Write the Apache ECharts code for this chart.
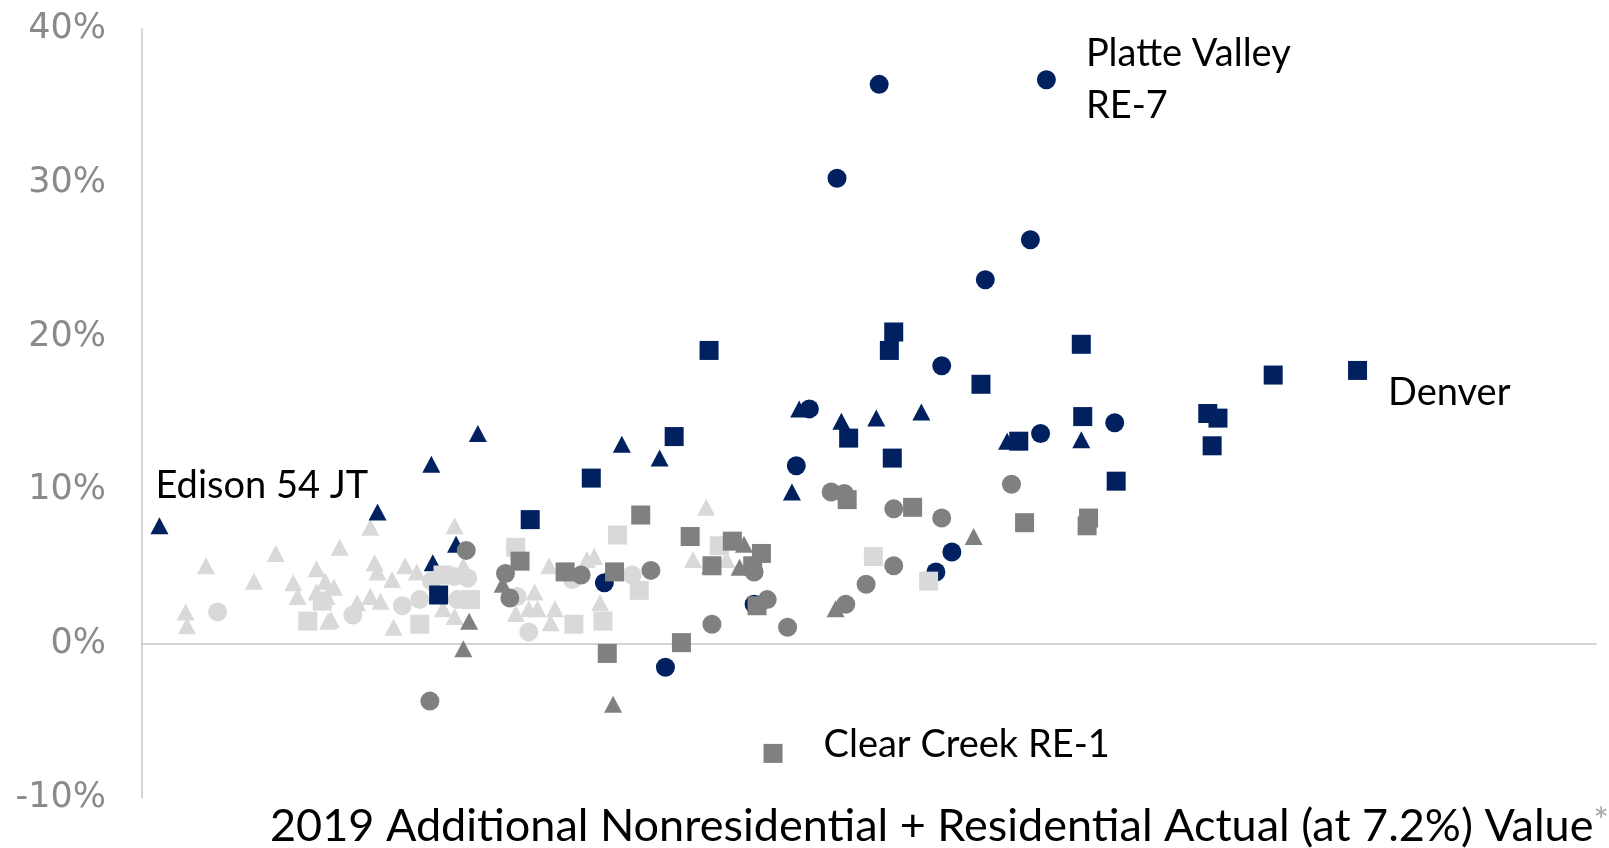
<!DOCTYPE html>
<html>
<head>
<meta charset="utf-8">
<script src="https://cdn.jsdelivr.net/npm/echarts@6/dist/echarts.min.js"></script>
<style>
  html, body { margin: 0; padding: 0; background: #fff; }
  #chart { width: 1609px; height: 848px; }
</style>
</head>
<body>
<div id="chart"></div>
<script>
// Horizontal position is a relative index (0–100) of the 2019 additional value; vertical is the % change.
const navyCircles = [[50.7,36.4],[62.2,36.7],[47.8,30.3],[61.1,26.3],[58.0,23.7],[55.0,18.1],[45.9,15.3],[61.8,13.7],[66.9,14.4],[45.0,11.6],[55.7,6.0],[54.6,4.7],[42.1,2.6],[31.8,4.0],[36.0,-1.5]];
const navySquares = [[39.0,19.1],[51.7,20.3],[51.4,19.1],[64.6,19.5],[57.7,16.9],[77.8,17.5],[83.6,17.8],[73.3,15.0],[74.0,14.7],[64.7,14.8],[73.6,12.9],[36.6,13.5],[48.6,13.4],[60.3,13.2],[51.6,12.1],[30.9,10.8],[67.0,10.6],[26.7,8.1],[20.4,3.2]];
const navyTriangles = [[1.2,7.7],[16.2,8.6],[19.9,11.7],[23.1,13.7],[33.0,13.0],[35.6,12.1],[45.2,15.3],[48.1,14.5],[50.5,14.7],[53.6,15.1],[44.7,9.9],[59.5,13.2],[64.6,13.3],[21.6,6.5],[20.0,5.3]];

const grayCircles = [[22.3,6.1],[19.8,-3.7],[25.0,4.6],[25.3,3.0],[30.2,4.5],[35.0,4.8],[39.2,1.3],[42.1,4.7],[43.0,2.9],[44.4,1.1],[47.4,9.9],[48.3,9.8],[48.4,2.6],[49.8,3.9],[51.7,8.8],[55.0,8.2],[51.7,5.1],[59.8,10.4]];
const graySquares = [[34.3,8.4],[37.7,7.0],[40.6,6.7],[42.6,5.9],[39.2,5.1],[42.0,5.1],[42.3,2.5],[29.1,4.7],[32.5,4.7],[26.0,5.4],[32.0,-0.6],[37.1,0.1],[43.4,-7.1],[48.5,9.4],[53.0,8.9],[60.7,7.9],[65.1,8.2],[65.0,7.7]];
const grayTriangles = [[22.1,-0.3],[22.5,1.5],[24.8,3.9],[32.4,-3.9],[39.1,5.1],[41.4,6.5],[41.1,5.0],[47.7,2.3],[57.2,7.0]];

const lightCircles = [[5.2,2.1],[14.5,1.9],[17.9,2.5],[19.1,2.9],[19.9,4.1],[21.5,4.4],[22.4,4.3],[21.7,2.9],[26.6,0.8],[25.8,3.1],[29.6,4.2],[33.7,4.5]];
const lightSquares = [[11.4,1.5],[12.4,2.8],[19.1,1.3],[20.7,4.5],[22.6,2.9],[25.7,6.3],[29.7,1.3],[31.7,1.5],[32.7,7.1],[34.2,3.5],[39.7,6.4],[50.3,5.7],[54.1,4.1]];
const lightTriangles = [[4.4,5.1],[9.2,5.9],[7.7,4.1],[3.0,2.1],[3.1,1.2],[10.4,4.0],[10.7,3.1],[12.0,4.9],[12.0,3.4],[12.6,4.1],[12.7,3.1],[12.8,1.5],[13.6,6.3],[15.7,7.6],[16.0,5.3],[16.2,4.7],[17.2,4.2],[15.7,3.1],[16.4,2.8],[17.3,1.1],[18.1,5.1],[18.9,4.7],[21.5,7.7],[22.1,5.1],[20.7,2.3],[21.5,1.8],[14.8,2.7],[13.0,1.6],[13.2,3.7],[28.0,5.1],[27.0,3.4],[25.7,2.0],[26.6,2.3],[27.2,2.3],[28.4,2.3],[28.1,1.4],[31.5,2.7],[30.6,5.5],[31.1,5.7],[37.9,5.5],[38.8,8.9],[40.2,5.5]];

const yTicks = [-10, 0, 10, 20, 30, 40];
const axisTitle = '2019 Additional Nonresidential + Residential Actual (at 7.2%) Value';

// Named districts: which list, which point, and the label text
const callouts = [
  { list: 'navyCircles', index: 1, text: 'Platte Valley\nRE-7', offset: [25, 0] },
  { list: 'navySquares', index: 6, text: 'Denver', offset: [16, 22] },
  { list: 'navyTriangles', index: 0, text: 'Edison 54 JT', offset: [-18, -40] },
  { list: 'graySquares', index: 12, text: 'Clear Creek RE-1', offset: [36, -9] }
];

const lists = { navyCircles, navySquares, navyTriangles, grayCircles, graySquares, grayTriangles, lightCircles, lightSquares, lightTriangles };

const NAVY = '#002060', GRAY = '#808080', LIGHT = '#D9D9D9';
const FONT = 'Lato';

function buildData(key) {
  return lists[key].map((p, i) => {
    const c = callouts.find(c => c.list === key && c.index === i);
    if (!c) return p;
    return {
      value: p,
      label: {
        show: true, position: 'right', offset: c.offset, formatter: c.text,
        color: '#000', fontFamily: FONT, fontSize: 38, lineHeight: 52, align: 'left'
      }
    };
  });
}

function scatter(key, color, symbol, size) {
  return {
    type: 'scatter', name: key, data: buildData(key), symbol, symbolSize: size,
    itemStyle: { color, opacity: 1 }, emphasis: { disabled: true }, silent: true, z: 2
  };
}

const chart = echarts.init(document.getElementById('chart'), null, { renderer: 'canvas' });
chart.setOption({
  animation: false,
  backgroundColor: '#fff',
  grid: { left: 142, right: 13, top: 29, bottom: 50, containLabel: false },
  xAxis: {
    type: 'value', min: 0, max: 100,
    axisLine: { show: true, onZero: true, lineStyle: { color: '#C6C6C6', width: 1.5 } },
    axisTick: { show: false }, axisLabel: { show: false }, splitLine: { show: false }
  },
  yAxis: {
    type: 'value', min: yTicks[0], max: yTicks[yTicks.length - 1], interval: 10,
    axisLine: { show: true, onZero: false, lineStyle: { color: '#C6C6C6', width: 1.5 } },
    axisTick: { show: false }, splitLine: { show: false },
    axisLabel: { formatter: v => v + '%', color: '#8A8A8A', fontFamily: 'DejaVu Sans', fontSize: 35, margin: 36 }
  },
  title: {
    text: '{m|' + axisTitle + '}{s|*}',
    left: 265, top: 799,
    textStyle: {
      fontWeight: 'normal',
      rich: {
        m: { fontFamily: FONT, fontSize: 45, fontWeight: 'normal', color: '#000' },
        s: { fontFamily: FONT, fontSize: 36, fontWeight: 'normal', color: '#A6A6A6', verticalAlign: 'top' }
      }
    }
  },
  series: [
    scatter('lightTriangles', LIGHT, 'triangle', [18, 17]),
    scatter('grayTriangles', GRAY, 'triangle', [18, 17]),
    scatter('navyTriangles', NAVY, 'triangle', [18, 17]),
    scatter('lightCircles', LIGHT, 'circle', 19),
    scatter('grayCircles', GRAY, 'circle', 19),
    scatter('navyCircles', NAVY, 'circle', 19),
    scatter('lightSquares', LIGHT, 'rect', 19),
    scatter('graySquares', GRAY, 'rect', 19),
    scatter('navySquares', NAVY, 'rect', 19)
  ]
});
</script>
</body>
</html>
